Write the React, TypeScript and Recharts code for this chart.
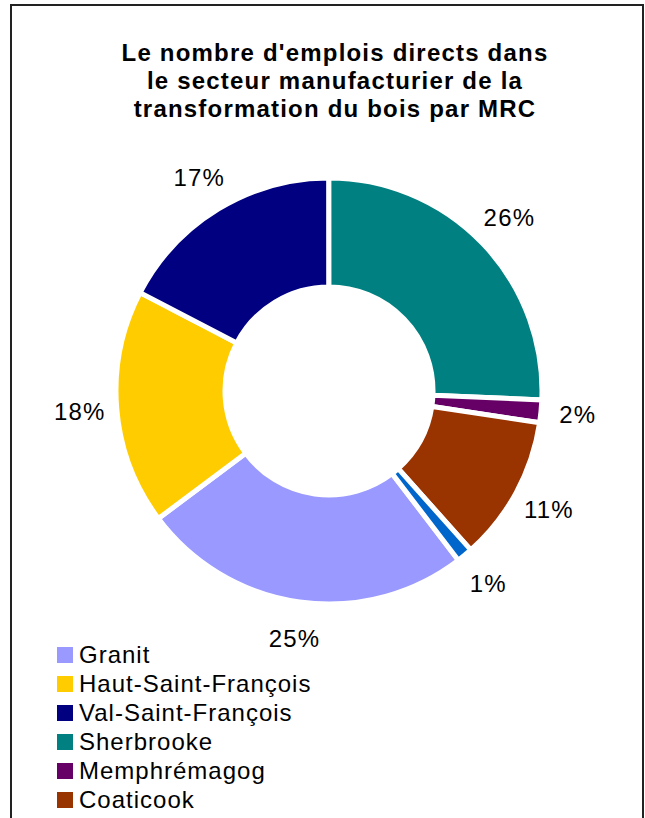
import { PieChart, Pie, Cell, Legend } from 'recharts';

const mrcNames = [
  'Granit',
  'Haut-Saint-François',
  'Val-Saint-François',
  'Sherbrooke',
  'Memphrémagog',
  'Coaticook',
  'Asbestos',
];
const shares = [25.1, 17.8, 17.3, 25.6, 1.7, 11.0, 1.2];
const sliceColors = ['#9999FF', '#FFCC00', '#000080', '#008080', '#660066', '#993300', '#0066CC'];
// the last legend entry falls below the frame in the original, only these are visible
const legendCount = 6;
const titleLines = [
  "Le nombre d'emplois directs dans",
  'le secteur manufacturier de la',
  'transformation du bois par MRC',
];

const data = mrcNames.map((name, i) => ({ name, value: shares[i] }));

const FONT = '"Liberation Sans", Arial, sans-serif';
const RAD = Math.PI / 180;

const renderLabel = (props: any) => {
  const { cx, cy, midAngle, percent } = props;
  const r = 250;
  const x = cx + r * Math.cos(-midAngle * RAD);
  const y = cy + r * Math.sin(-midAngle * RAD);
  return (
    <text
      x={x}
      y={y}
      textAnchor="middle"
      dominantBaseline="central"
      fill="#000"
      fontSize={24}
      letterSpacing={1.2}
      fontFamily={FONT}
    >
      {`${Math.round(percent * 100)}%`}
    </text>
  );
};

const LegendList = () => (
  <div style={{ fontFamily: FONT }}>
    {mrcNames.slice(0, legendCount).map((name, i) => (
      <div key={name} style={{ display: 'flex', alignItems: 'center', height: 29 }}>
        <span
          style={{ width: 16, height: 16, background: sliceColors[i], display: 'inline-block', marginRight: 6 }}
        />
        <span style={{ fontSize: 24, letterSpacing: 1, color: '#000', lineHeight: '29px' }}>{name}</span>
      </div>
    ))}
  </div>
);

export default function App() {
  return (
    <div
      style={{
        position: 'fixed',
        top: 0,
        left: 0,
        width: 645,
        height: 818,
        overflow: 'hidden',
        background: '#fff',
      }}
    >
      <div
        style={{
          position: 'absolute',
          left: 10,
          top: 4,
          width: 630,
          height: 900,
          border: '2px solid #222',
        }}
      />
      <PieChart
        width={645}
        height={818}
        margin={{ top: 0, right: 0, bottom: 0, left: 0 }}
        style={{ position: 'absolute', top: 0, left: 0 }}
      >
        <text textAnchor="middle" fontFamily={FONT} fontWeight="bold" fontSize={24} letterSpacing={1.2} fill="#000">
          {titleLines.map((line, i) => (
            <tspan key={i} x={335} y={61 + i * 28}>
              {line}
            </tspan>
          ))}
        </text>
        <Pie
          data={data}
          dataKey="value"
          nameKey="name"
          cx={329}
          cy={391}
          innerRadius={104}
          outerRadius={213}
          startAngle={-52.6}
          endAngle={-412.6}
          stroke="#fff"
          strokeWidth={5}
          label={renderLabel}
          labelLine={false}
          isAnimationActive={false}
        >
          {data.map((d, i) => (
            <Cell key={d.name} fill={sliceColors[i]} />
          ))}
        </Pie>
        <Legend
          content={<LegendList />}
          wrapperStyle={{ position: 'absolute', left: 57, top: 640, width: 400 }}
        />
      </PieChart>
    </div>
  );
}
